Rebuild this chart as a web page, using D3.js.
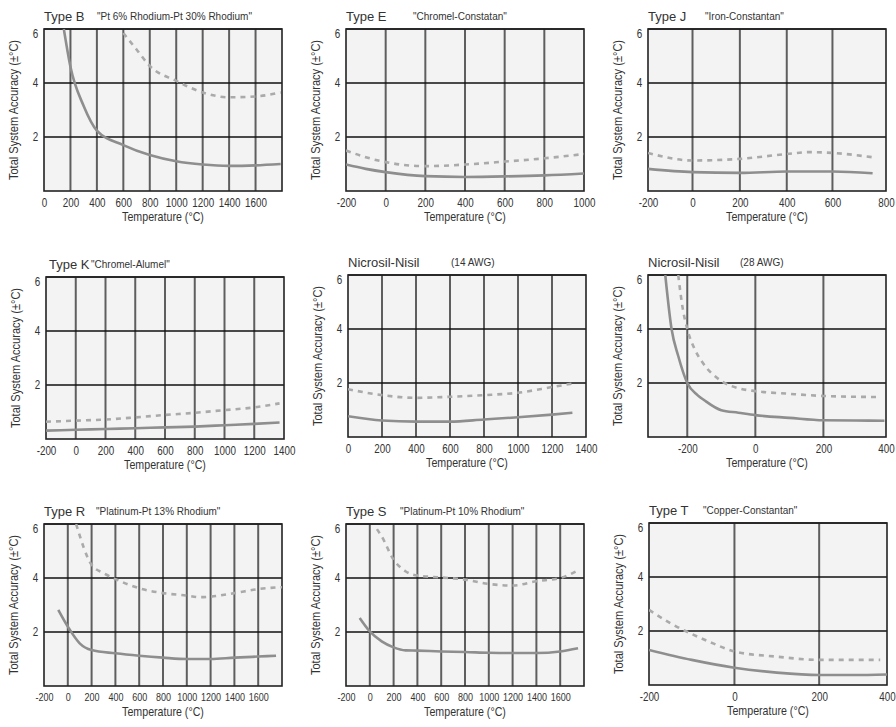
<!DOCTYPE html>
<html>
<head>
<meta charset="utf-8">
<script src="https://cdn.jsdelivr.net/npm/d3@7"></script>
<style>
    body { margin: 0; background: #fff; }
    svg text { font-family: "Liberation Sans", Arial, sans-serif; fill: #333; }
</style>
</head>
<body>
<div id="chart"></div>
<script>

// ---- data (temperature °C, accuracy ±°C) ----

const panelTitles = ["Type B", "Type E", "Type J", "Type K", "Nicrosil-Nisil", "Nicrosil-Nisil", "Type R", "Type S", "Type T"];
const panelSubtitles = ["\"Pt 6% Rhodium-Pt 30% Rhodium\"", "\"Chromel-Constatan\"", "\"Iron-Constantan\"", "\"Chromel-Alumel\"",
    "(14 AWG)", "(28 AWG)", "\"Platinum-Pt 13% Rhodium\"", "\"Platinum-Pt 10% Rhodium\"", "\"Copper-Constantan\""];

const yTicks = [2, 4, 6];

const typeBTicks = [0, 200, 400, 600, 800, 1000, 1200, 1400, 1600];
const typeBSolid = [[150, 6], [200, 4.6], [300, 3.15], [400, 2.24], [600, 1.7], [800, 1.33], [1000, 1.1], [1200, 0.98], [1400, 0.93], [1600, 0.95], [1790, 1.0]];
const typeBDashed = [[600, 5.85], [700, 5.24], [800, 4.63], [1000, 4.08], [1200, 3.65], [1400, 3.47], [1600, 3.5], [1790, 3.65]];

const typeETicks = [-200, 0, 200, 400, 600, 800, 1000];
const typeESolid = [[-200, 0.98], [-100, 0.82], [0, 0.7], [200, 0.55], [400, 0.52], [600, 0.54], [800, 0.58], [1000, 0.65]];
const typeEDashed = [[-200, 1.5], [-100, 1.25], [0, 1.07], [200, 0.92], [400, 0.98], [600, 1.09], [800, 1.21], [1000, 1.37]];

const typeJTicks = [-200, 0, 200, 400, 600, 800];
const typeJSolid = [[-200, 0.82], [0, 0.7], [200, 0.67], [400, 0.72], [600, 0.72], [750, 0.66]];
const typeJDashed = [[-200, 1.41], [0, 1.13], [200, 1.19], [400, 1.37], [500, 1.44], [600, 1.41], [750, 1.25]];

const typeKTicks = [-200, 0, 200, 400, 600, 800, 1000, 1200, 1400];
const typeKSolid = [[-200, 0.31], [0, 0.34], [200, 0.37], [400, 0.4], [600, 0.43], [800, 0.46], [1000, 0.51], [1200, 0.56], [1370, 0.61]];
const typeKDashed = [[-200, 0.64], [0, 0.68], [200, 0.72], [400, 0.8], [600, 0.89], [800, 0.97], [1000, 1.07], [1200, 1.17], [1370, 1.32]];

const nisil14Ticks = [0, 200, 400, 600, 800, 1000, 1200, 1400];
const nisil14Solid = [[0, 0.77], [200, 0.61], [400, 0.57], [600, 0.57], [800, 0.65], [1000, 0.73], [1200, 0.83], [1320, 0.9]];
const nisil14Dashed = [[0, 1.77], [200, 1.55], [400, 1.45], [600, 1.49], [800, 1.55], [1000, 1.64], [1200, 1.85], [1320, 1.98]];

const nisil28Ticks = [-200, 0, 200, 400];
const nisil28Solid = [[-256, 6], [-240, 4], [-223, 3], [-200, 2], [-170, 1.55], [-150, 1.36], [-100, 0.99], [-50, 0.9], [0, 0.81], [100, 0.71], [200, 0.62], [300, 0.61], [395, 0.6]];
const nisil28Dashed = [[-223, 6], [-212, 4.8], [-200, 4], [-177, 3.22], [-153, 2.72], [-103, 2.1], [-44, 1.79], [0, 1.7], [100, 1.6], [200, 1.52], [380, 1.48]];

const typeRTicks = [-200, 0, 200, 400, 600, 800, 1000, 1200, 1400, 1600];
const typeRSolid = [[-80, 2.82], [0, 2.2], [100, 1.58], [200, 1.33], [400, 1.21], [600, 1.12], [800, 1.05], [1000, 1.0], [1200, 1.0], [1400, 1.05], [1600, 1.09], [1750, 1.12]];
const typeRDashed = [[70, 6], [200, 4.49], [300, 4.18], [400, 3.96], [600, 3.62], [800, 3.44], [1000, 3.35], [1100, 3.29], [1200, 3.31], [1400, 3.44], [1600, 3.59], [1800, 3.66]];

const typeSTicks = [-200, 0, 200, 400, 600, 800, 1000, 1200, 1400, 1600];
const typeSSolid = [[-85, 2.52], [0, 2.02], [100, 1.65], [200, 1.43], [300, 1.32], [400, 1.31], [600, 1.28], [800, 1.26], [1000, 1.23], [1200, 1.22], [1400, 1.22], [1600, 1.28], [1750, 1.4]];
const typeSDashed = [[60, 5.81], [100, 5.54], [200, 4.68], [300, 4.25], [400, 4.09], [600, 4.02], [800, 3.94], [1000, 3.78], [1200, 3.72], [1400, 3.88], [1600, 4.0], [1750, 4.28]];

const typeTTicks = [-200, 0, 200, 400];
const typeTSolid = [[-200, 1.3], [-100, 0.93], [0, 0.64], [100, 0.46], [200, 0.37], [300, 0.37], [400, 0.39]];
const typeTDashed = [[-200, 2.78], [-150, 2.29], [-100, 1.89], [-50, 1.54], [0, 1.24], [100, 1.05], [200, 0.93], [300, 0.93], [380, 0.93]];

// x extents of each panel; the scanned grids are not evenly spaced in J, 28 AWG and T,
// so those get a piecewise domain with the fraction of the width at each stop
const xDomains = [
    {domain: [0, 1800]},
    {domain: [-200, 1000]},
    {domain: [-200, 0, 200, 400, 600, 800], fracs: [0, 0.187, 0.386, 0.583, 0.775, 1]},
    {domain: [-200, 1400]},
    {domain: [0, 1400]},
    {domain: [-300, -200, 0, 200, 400], fracs: [0, 0.165, 0.451, 0.737, 1]},
    {domain: [-200, 1800]},
    {domain: [-200, 1800]},
    {domain: [-200, 0, 200, 400], fracs: [0, 0.359, 0.715, 1]}
];

const panelTicks = [typeBTicks, typeETicks, typeJTicks, typeKTicks, nisil14Ticks, nisil28Ticks, typeRTicks, typeSTicks, typeTTicks];
const panelSolid = [typeBSolid, typeESolid, typeJSolid, typeKSolid, nisil14Solid, nisil28Solid, typeRSolid, typeSSolid, typeTSolid];
const panelDashed = [typeBDashed, typeEDashed, typeJDashed, typeKDashed, nisil14Dashed, nisil28Dashed, typeRDashed, typeSDashed, typeTDashed];

// ---- layout ----
const width = 896, height = 727;
const plotW = 238, plotH = 162;
const origins = [[44, 29], [346, 29], [648, 29], [46, 277], [348, 275], [648, 275], [44, 524], [346, 524], [649, 523]];
const titleOffsets = [0, 0, 0, 3, 0, 0, 0, 0, 0];
const subOffsets = [53, 67, 57, 45, 103, 92, 52, 54, 54];
const tickFont = [12, 12, 12, 12, 12, 12, 11, 11, 12];
const narrow = "scale(0.82,1)";

const svg = d3.select("#chart").append("svg")
    .attr("width", width)
    .attr("height", height);

const line = d3.line().curve(d3.curveMonotoneX);

panelTitles.forEach((title, i) => {
    let [ox, oy] = origins[i];
    let xd = xDomains[i];

    let x = d3.scaleLinear()
        .domain(xd.domain)
        .range(xd.fracs ? xd.fracs.map(f => f * plotW) : [0, plotW]);
    let y = d3.scaleLinear().domain([0, 6]).range([plotH, 0]);

    let g = svg.append("g").attr("transform", `translate(${ox},${oy})`);

    // clip for curves that run off the top
    g.append("clipPath").attr("id", "clip" + i)
        .append("rect").attr("width", plotW).attr("height", plotH);

    // background
    g.append("rect")
        .attr("width", plotW)
        .attr("height", plotH)
        .attr("fill", "#f3f3f3");

    // vertical grid
    let lo = d3.min(xd.domain), hi = d3.max(xd.domain);
    let gridX = panelTicks[i].filter(t => t > lo && t < hi);
    g.selectAll(".vgrid")
        .data(gridX)
        .enter()
        .append("line")
        .attr("x1", d => x(d)).attr("x2", d => x(d))
        .attr("y1", 0).attr("y2", plotH)
        .attr("stroke", "#5e5e5e")
        .attr("stroke-width", 2);

    // horizontal grid
    g.selectAll(".hgrid")
        .data(yTicks)
        .enter()
        .append("line")
        .attr("x1", 0).attr("x2", plotW)
        .attr("y1", d => y(d)).attr("y2", d => y(d))
        .attr("stroke", "#111")
        .attr("stroke-width", 1.6);

    // frame
    g.append("rect")
        .attr("width", plotW)
        .attr("height", plotH)
        .attr("fill", "none")
        .attr("stroke", "#222")
        .attr("stroke-width", 1.6);

    // curves
    let curves = g.append("g").attr("clip-path", `url(#clip${i})`);
    curves.append("path")
        .attr("d", line(panelDashed[i].map(p => [x(p[0]), y(p[1])])))
        .attr("fill", "none")
        .attr("stroke", "#aaaaaa")
        .attr("stroke-width", 2.6)
        .attr("stroke-dasharray", "5,5");
    curves.append("path")
        .attr("d", line(panelSolid[i].map(p => [x(p[0]), y(p[1])])))
        .attr("fill", "none")
        .attr("stroke", "#8e8e8e")
        .attr("stroke-width", 2.6);

    // axes
    let xAxis = g.append("g")
        .attr("transform", `translate(0,${plotH})`)
        .call(d3.axisBottom(x).tickValues(panelTicks[i]).tickSize(0).tickPadding(7).tickFormat(d => String(d)));
    xAxis.select(".domain").remove();
    xAxis.selectAll("text")
        .style("font-size", tickFont[i] + "px")
        .style("font-family", "\"Liberation Sans\", Arial, sans-serif")
        .attr("transform", narrow);

    let yAxis = g.append("g")
        .call(d3.axisLeft(y).tickValues(yTicks).tickSize(0).tickPadding(7).tickFormat(d => String(d)));
    yAxis.select(".domain").remove();
    yAxis.selectAll("text")
        .style("font-size", "12px")
        .style("font-family", "\"Liberation Sans\", Arial, sans-serif")
        .attr("transform", narrow)
        .attr("dy", d => d === 6 ? "0.7em" : "0.32em");

    // titles
    g.append("text")
        .attr("x", titleOffsets[i])
        .attr("y", -8)
        .style("font-size", "13px")
        .text(title);
    g.append("text")
        .attr("x", subOffsets[i])
        .attr("y", -9)
        .style("font-size", "10px")
        .text(panelSubtitles[i]);

    g.append("text")
        .attr("transform", `translate(${plotW / 2},${plotH + 30}) ${narrow}`)
        .attr("text-anchor", "middle")
        .style("font-size", "13px")
        .text("Temperature (°C)");

    g.append("text")
        .attr("transform", `translate(-26,${plotH / 2}) rotate(-90) ${narrow}`)
        .attr("text-anchor", "middle")
        .style("font-size", "13.5px")
        .text("Total System Accuracy (±°C)");
});

</script>
</body>
</html>
